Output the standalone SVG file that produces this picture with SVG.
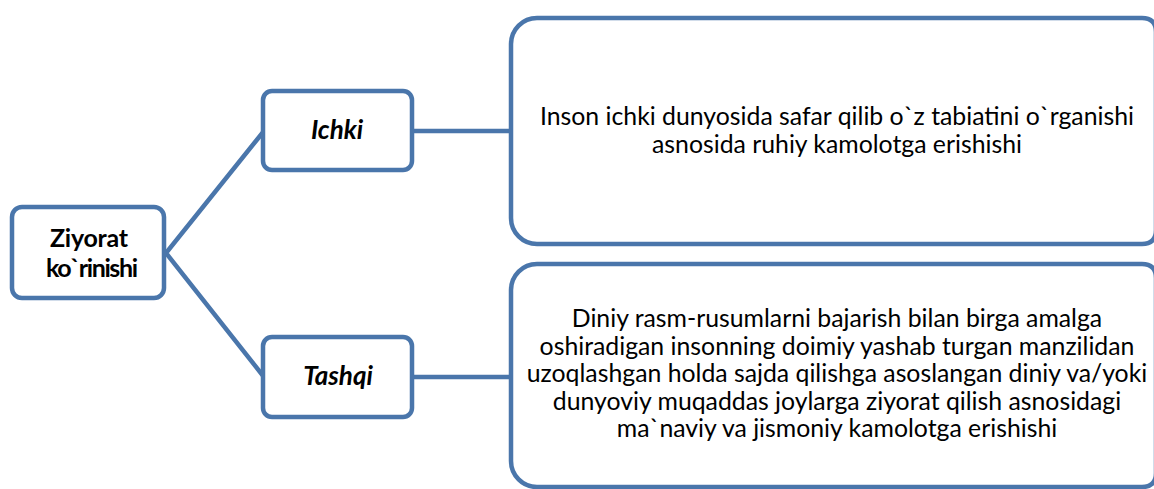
<svg xmlns="http://www.w3.org/2000/svg" width="1154" height="489" viewBox="0 0 1154 489">
<style>
.box{fill:#ffffff;stroke:#4a76ab;stroke-width:4.5}
.con{fill:none;stroke:#4a76ab;stroke-width:4.5}
text{font-family:Lato,"Liberation Sans",sans-serif;fill:#000;text-anchor:middle}
.t{font-size:24.8px}
.b{font-size:25px;font-weight:bold}
.bi{font-size:26px;font-weight:bold;font-style:italic}
</style>
<rect width="1154" height="489" fill="#ffffff"/>
<g id="connectors">
<polyline class="con" points="264,131 166,253 264,377"/>
<line class="con" x1="412" y1="131" x2="511" y2="131"/>
<line class="con" x1="412" y1="377" x2="511" y2="377"/>
</g>
<g id="root">
<rect class="box" x="12" y="207" width="152" height="91" rx="10"/>
<text class="b" x="89" y="247" textLength="78">Ziyorat</text>
<text class="b" x="92" y="277" textLength="92">ko`rinishi</text>
</g>
<g id="ichki">
<rect class="box" x="263" y="91" width="149" height="79" rx="9"/>
<text class="bi" x="337" y="139">Ichki</text>
</g>
<g id="tashqi">
<rect class="box" x="263" y="337" width="149" height="80" rx="9"/>
<text class="bi" x="338" y="385">Tashqi</text>
</g>
<g id="ichki-desc">
<path class="box" d="M537,18 H1142 Q1156,18 1156,32 V230 Q1156,244 1142,244 H537 A26,26 0 0 1 511,218 V44 A26,26 0 0 1 537,18 Z"/>
<text class="t" x="837" y="125">Inson ichki dunyosida safar qilib o`z tabiatini o`rganishi</text>
<text class="t" x="837" y="152.5">asnosida ruhiy kamolotga erishishi</text>
</g>
<g id="tashqi-desc">
<path class="box" d="M537,264 H1142 Q1156,264 1156,278 V473 Q1156,487 1142,487 H537 A26,26 0 0 1 511,461 V290 A26,26 0 0 1 537,264 Z"/>
<text class="t" x="837" y="327">Diniy rasm-rusumlarni bajarish bilan birga amalga</text>
<text class="t" x="837" y="354.5">oshiradigan insonning doimiy yashab turgan manzilidan</text>
<text class="t" x="837" y="382">uzoqlashgan holda sajda qilishga asoslangan diniy va/yoki</text>
<text class="t" x="837" y="409.5">dunyoviy muqaddas joylarga ziyorat qilish asnosidagi</text>
<text class="t" x="837" y="437">ma`naviy va jismoniy kamolotga erishishi</text>
</g>
</svg>
